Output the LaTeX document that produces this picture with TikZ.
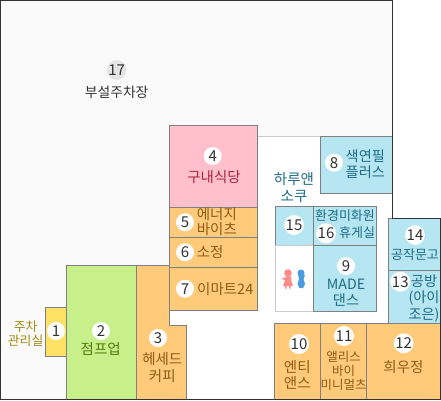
\documentclass[tikz,border=0pt]{standalone}
\usepackage{fontspec}
\setmainfont{Noto Sans CJK KR}
\definecolor{orangefill}{HTML}{FFCA7A}
\definecolor{orangetext}{HTML}{8F5B14}
\definecolor{pinkfill}{HTML}{FFC0CB}
\definecolor{pinktext}{HTML}{A8243F}
\definecolor{greenfill}{HTML}{C8F08A}
\definecolor{greentext}{HTML}{4F7D10}
\definecolor{bluefill}{HTML}{B5E6F2}
\definecolor{bluetext}{HTML}{1F6B85}
\definecolor{yellowfill}{HTML}{FFE066}
\definecolor{yellowtext}{HTML}{A08A10}
\definecolor{edgegrey}{HTML}{808080}
\definecolor{lightedge}{HTML}{CCCCCC}
\definecolor{outerline}{HTML}{333333}
\definecolor{lotfill}{HTML}{FAFAFA}
\definecolor{numtext}{HTML}{333333}
\definecolor{ladyicon}{HTML}{FF8A8A}
\definecolor{manicon}{HTML}{4A9BE0}
\tikzset{
 x=1pt,y=-1pt,
 shop/.style={draw=edgegrey,line width=1pt},
 num/.style={circle,fill=white,inner sep=0pt,minimum size=18pt,text=numtext,font=\fontsize{15}{15}\selectfont},
 lab/.style={inner sep=0pt,align=center,font=\fontsize{14.5}{16.6}\selectfont},
 smalllab/.style={inner sep=0pt,align=center,font=\fontsize{13}{14}\selectfont},
 otxt/.style={lab,text=orangetext},
 btxt/.style={lab,text=bluetext},
}
\begin{document}
\begin{tikzpicture}
\useasboundingbox (0,0) rectangle (441,400);
\fill[white] (0,0) rectangle (441,400);
% lot
\fill[lotfill] (0.5,0.5) -- (392.3,0.5) -- (392.3,136.3) -- (257,136.3) -- (257,265) -- (66,265) -- (66,400) -- (0.5,400) -- cycle;
\draw[lightedge,line width=1pt] (257,136.3) -- (320.3,136.3);
% left group
\draw[shop,fill=yellowfill] (45.3,307.3) rectangle (66.3,356.3);
\draw[shop,fill=greenfill] (66.3,265.3) rectangle (136.7,399);
\draw[shop,fill=orangefill] (136.7,265.3) -- (169.3,265.3) -- (169.3,325.3) -- (186,325.3) -- (186,399) -- (136.7,399) -- cycle;
% column
\draw[shop,fill=pinkfill] (169.3,125.3) rectangle (257.3,207.3);
\draw[shop,fill=orangefill] (169.3,207.3) rectangle (257.3,237.3);
\draw[shop,fill=orangefill] (169.3,237.3) rectangle (257.3,267.3);
\draw[shop,fill=orangefill] (169.3,267.3) rectangle (257.3,310.3);
% right
\draw[shop,fill=bluefill] (320.3,136.3) rectangle (392.3,193.3);
\draw[shop,fill=bluefill] (275.3,206.7) rectangle (313.7,245);
\draw[shop,fill=bluefill] (313.7,206.7) rectangle (376.3,245);
\draw[lightedge,line width=1pt,fill=white] (275.3,245) rectangle (313.7,311);
\draw[shop,fill=bluefill] (313.7,245) rectangle (376.3,311);
\draw[shop,fill=bluefill] (388.7,218.3) rectangle (441,270.3);
\draw[shop,fill=bluefill] (388.7,270.3) rectangle (441,323.3);
\draw[shop,fill=orangefill] (274.3,323.3) rectangle (320.5,399);
\draw[shop,fill=orangefill] (320.5,323.3) rectangle (366.3,399);
\draw[shop,fill=orangefill] (366.3,323.3) rectangle (441,399);
% outer wall
\draw[outerline,line width=1.2pt] (0.6,0.6) -- (392.3,0.6) -- (392.3,218.3) -- (440.4,218.3) -- (440.4,399.4) -- (0.6,399.4) -- cycle;
% toilet icons
\fill[ladyicon] (288,273) circle (3.8);
\fill[ladyicon] (288,276) -- (291.5,277) -- (291,280) -- (293,286) -- (283,286) -- (285,280) -- (281.5,279) -- cycle;
\fill[ladyicon] (285,286) rectangle (286.5,288.5) (289,286) rectangle (290.5,288.5);
\fill[manicon] (301,273) circle (3.5);
\fill[manicon] (298,274) -- (305,275) -- (303.5,279) -- (305,284) -- (303,288) -- (299.5,288) -- (297.5,284) -- (299,279) -- cycle;
% numbers and labels
\node[num,fill=black!10] (n17) at (116.7,70) {17};
\node[lab,text=numtext,font=\fontsize{13.8}{15}\selectfont] (t17) at (116.7,92.5) {부설주차장};
\node[num] (n1) at (56,331) {1};
\node[lab,text=yellowtext,anchor=east,font=\fontsize{12.8}{14}\selectfont] (t1) at (43.5,333.7) {주차\\관리실};
\node[num] (n2) at (101,331) {2};
\node[lab,text=greentext] (t2) at (100.7,349.3) {점프업};
\node[num] (n3) at (158,338) {3};
\node[otxt] (t3) at (162.3,367.3) {헤세드\\커피};
\node[num] (n4) at (212.7,156) {4};
\node[lab,text=pinktext] (t4) at (214,177) {구내식당};
\node[num] (n5) at (185,222.3) {5};
\node[otxt,anchor=west,font=\fontsize{14.5}{14.8}\selectfont] (t5) at (196.7,221.7) {에너지\\바이츠};
\node[num] (n6) at (185,252.3) {6};
\node[otxt,anchor=west] (t6) at (196.7,251.7) {소정};
\node[num] (n7) at (185,288.7) {7};
\node[otxt,anchor=west] (t7) at (197,288.7) {이마트24};
\node[btxt] (tw) at (294,187.3) {하루앤\\소쿠};
\node[num] (n8) at (334,162.7) {8};
\node[btxt,font=\fontsize{14.2}{16}\selectfont] (t8) at (365.3,163.7) {색연필\\플러스};
\node[num] (n15) at (294,225) {15};
\node[num] (n16) at (326,233.3) {16};
\node[smalllab,text=bluetext] (t16a) at (345,216) {환경미화원};
\node[smalllab,text=bluetext,anchor=west] (t16b) at (339,233) {휴게실};
\node[num] (n9) at (346,266) {9};
\node[btxt,font=\fontsize{14.2}{15.7}\selectfont] (t9) at (346,293) {MADE\\댄스};
\node[num] (n14) at (415,235) {14};
\node[smalllab,text=bluetext] (t14) at (415,255) {공작문고};
\node[num] (n13) at (400.3,281.7) {13};
\node[btxt,font=\fontsize{14.2}{16.7}\selectfont] (t13) at (424,298.3) {공방\\(아이\\조은)};
\node[num] (n10) at (299,344) {10};
\node[otxt] (t10) at (297.3,375) {엔티\\앤스};
\node[num] (n11) at (344,336) {11};
\node[otxt,font=\fontsize{12.5}{14.2}\selectfont] (t11) at (343.7,370.7) {앨리스\\바이\\미니멀츠};
\node[num] (n12) at (403.7,343.3) {12};
\node[otxt] (t12) at (403.5,367.3) {희우정};
\end{tikzpicture}
\end{document}
